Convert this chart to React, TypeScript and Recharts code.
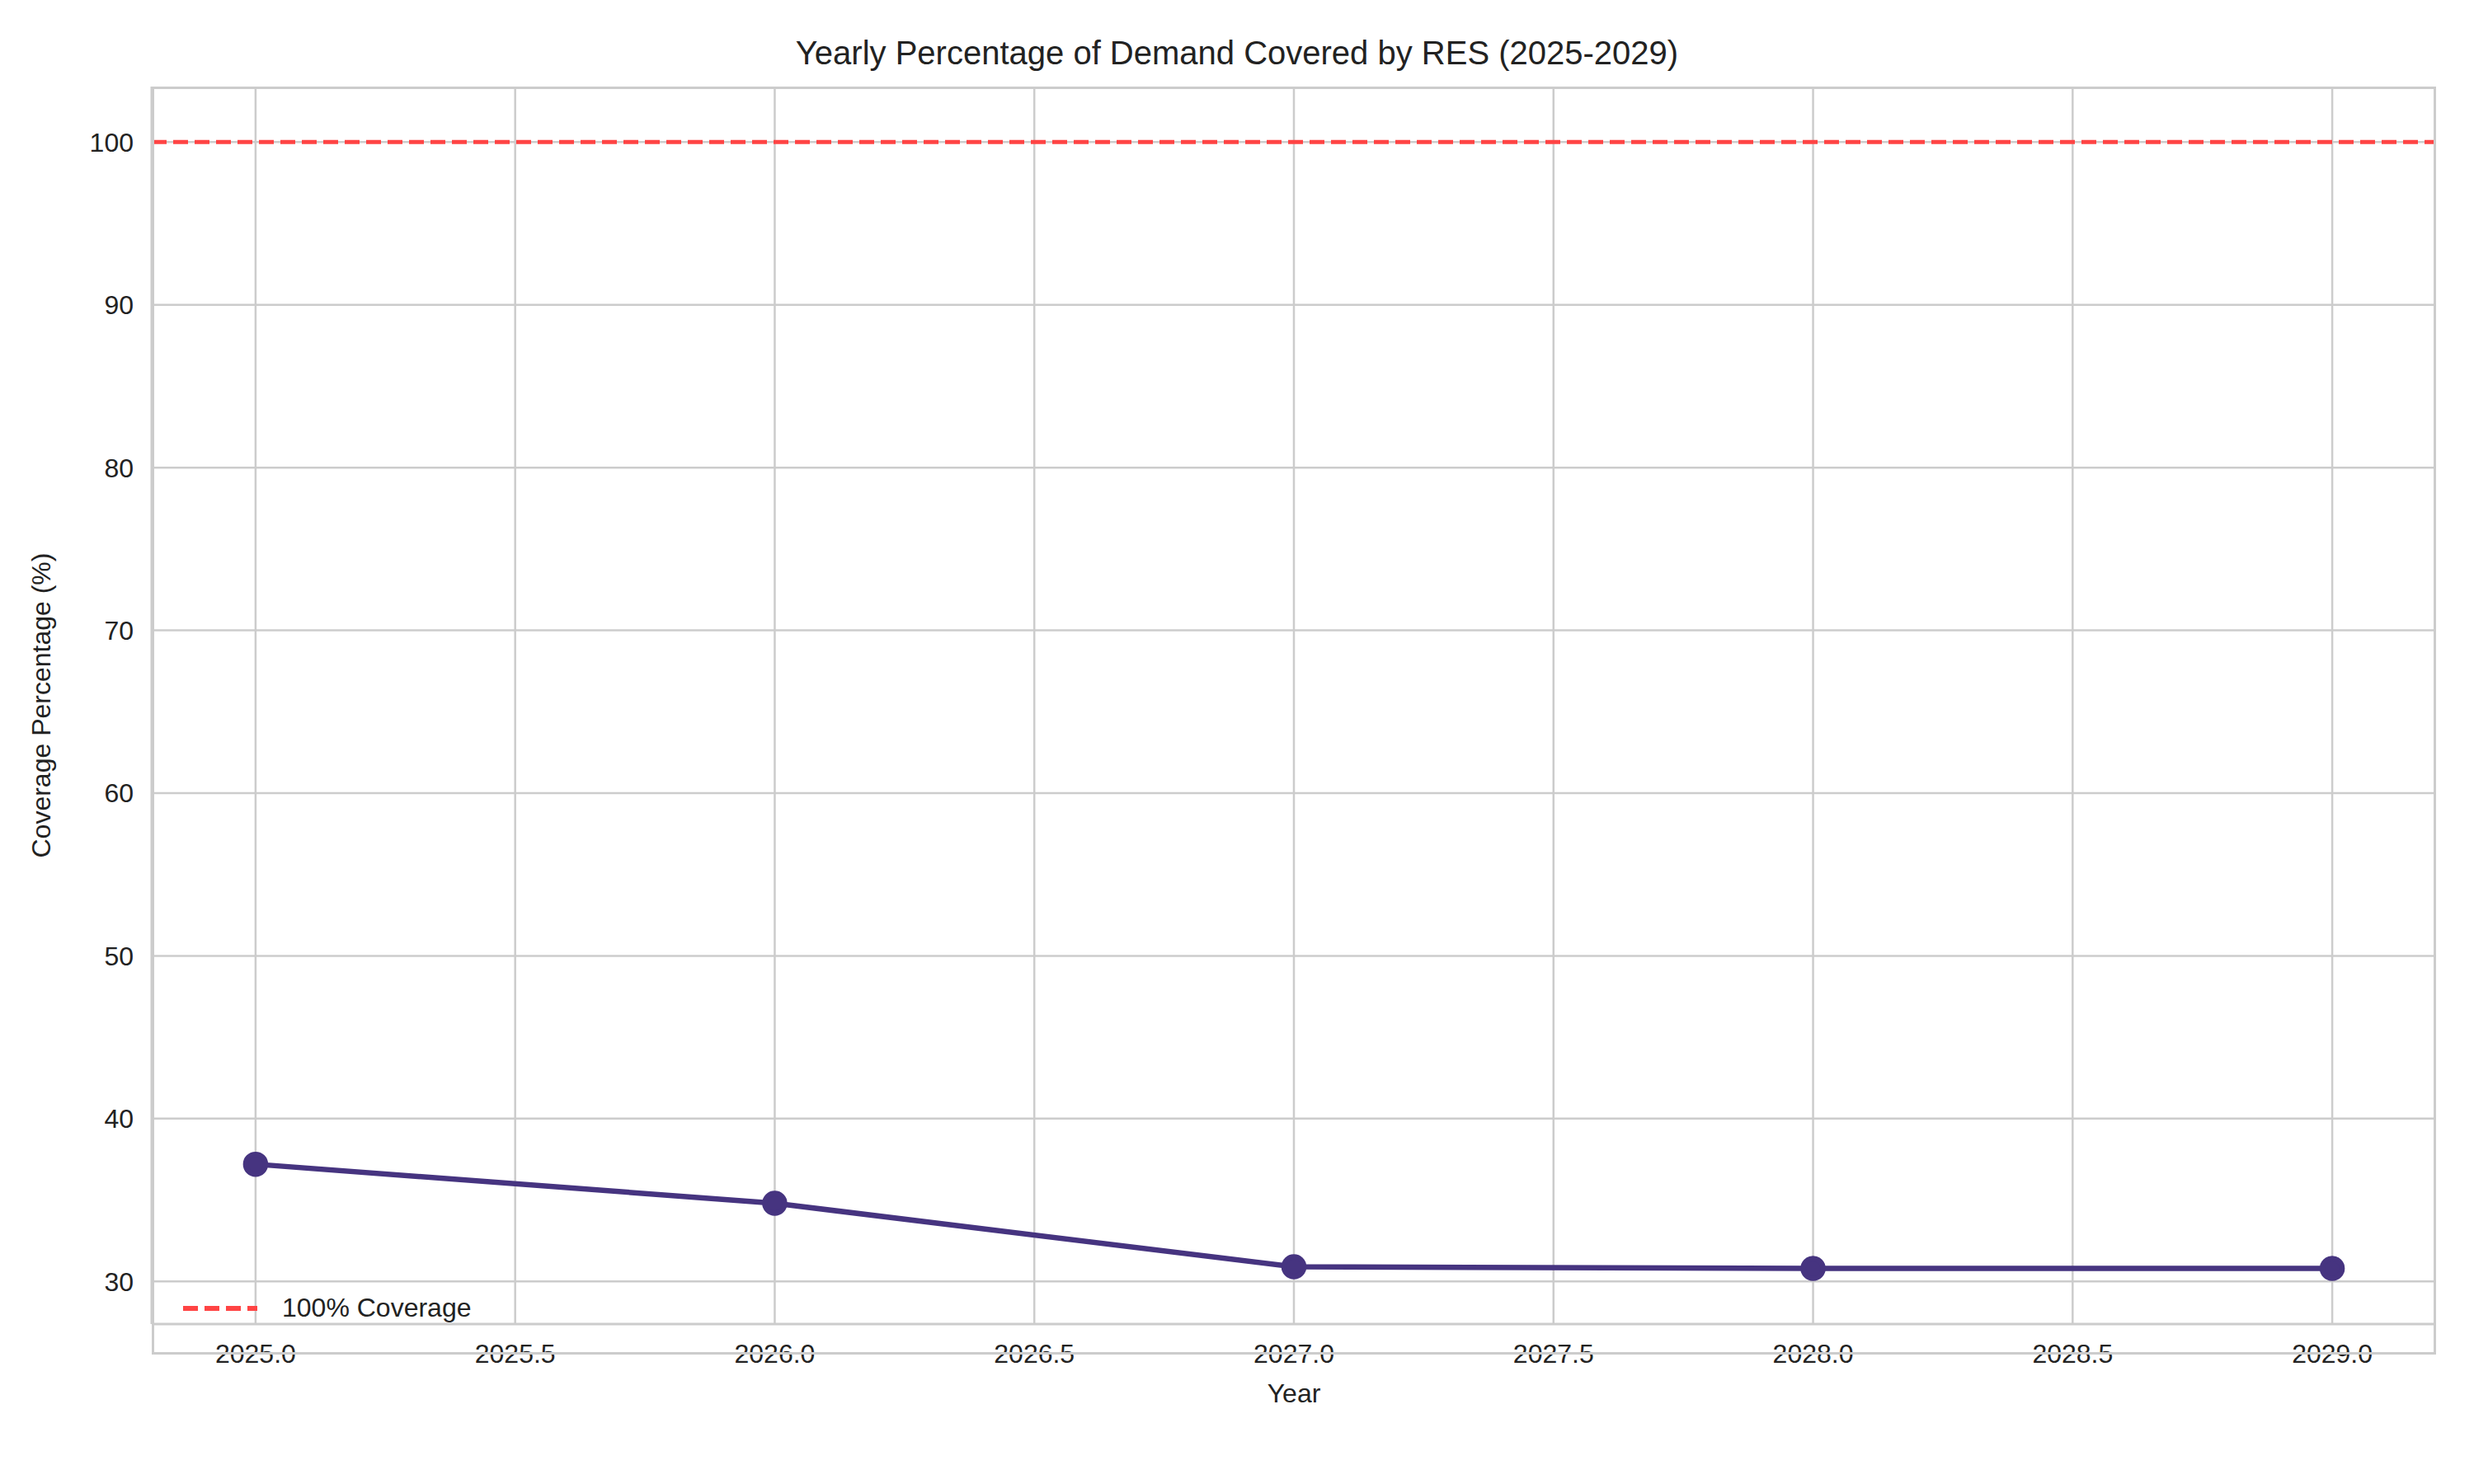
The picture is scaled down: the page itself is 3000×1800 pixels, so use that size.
import React from 'react';
import { LineChart, Line, XAxis, YAxis, CartesianGrid, ReferenceLine, Legend, Label } from 'recharts';

const years = [2025, 2026, 2027, 2028, 2029];
const coverage = [37.2, 34.8, 30.9, 30.8, 30.8];
const xTicks = [2025, 2025.5, 2026, 2026.5, 2027, 2027.5, 2028, 2028.5, 2029];
const yTicks = [30, 40, 50, 60, 70, 80, 90, 100];
const data = years.map((y, i) => ({ year: y, value: coverage[i] }));

const font = 'Liberation Sans, Arial, sans-serif';
const tick = { fontSize: 32, fill: '#222', fontFamily: font };
const grid = '#cccccc';

export default function App() {
  return (
    <div style={{ position: 'absolute', left: 0, top: 0, width: 3000, height: 1800, background: '#fff', fontFamily: font }}>
      <div style={{ position: 'absolute', top: 42, width: 3000, textAlign: 'center', fontSize: 40, color: '#222' }}>
        Yearly Percentage of Demand Covered by RES (2025-2029)
      </div>
      <LineChart width={3000} height={1800} data={data} margin={{ top: 105, right: 46, left: 0, bottom: 0 }}>
        <CartesianGrid stroke={grid} strokeWidth={2.5} verticalValues={xTicks} horizontalValues={yTicks} />
        <XAxis dataKey="year" type="number" domain={[2024.8, 2029.2]} ticks={xTicks} allowDataOverflow
          tickFormatter={(v: number) => v.toFixed(1)} tick={tick} tickLine={false} tickMargin={18}
          axisLine={{ stroke: grid, strokeWidth: 3 }} height={157}>
          <Label value="Year" position="insideTop" offset={72} style={{ fontSize: 32, fill: '#222', fontFamily: font }} />
        </XAxis>
        <YAxis domain={[27.38, 103.41]} ticks={yTicks} allowDataOverflow tick={tick} tickLine={false} tickMargin={16}
          axisLine={{ stroke: grid, strokeWidth: 3 }} width={184}>
          <Label value="Coverage Percentage (%)" angle={-90} position="insideLeft" offset={50} style={{ fontSize: 32, fill: '#222', fontFamily: font, textAnchor: 'middle' }} />
        </YAxis>
        <ReferenceLine y={100} stroke="#ff4444" strokeWidth={5} strokeDasharray="18 8" />
        <Line dataKey="value" stroke="#463480" strokeWidth={6.5} dot={{ r: 12, fill: '#463480', stroke: '#463480' }} isAnimationActive={false} />
        <Legend content={() => (
          <div style={{ display: 'flex', alignItems: 'center', fontSize: 32, color: '#222', fontFamily: font }}>
            <svg width={90} height={10}><line x1={0} y1={5} x2={90} y2={5} stroke="#ff4444" strokeWidth={6} strokeDasharray="18 8" /></svg>
            <span style={{ marginLeft: 30 }}>100% Coverage</span>
          </div>
        )} wrapperStyle={{ position: 'absolute', left: 222, top: 1568, width: 'auto' }} />
      </LineChart>
      <div style={{ position: 'absolute', left: 184, top: 105, width: 2770, height: 1538, border: '3px solid #cccccc', boxSizing: 'border-box', pointerEvents: 'none' }} />
    </div>
  );
}
